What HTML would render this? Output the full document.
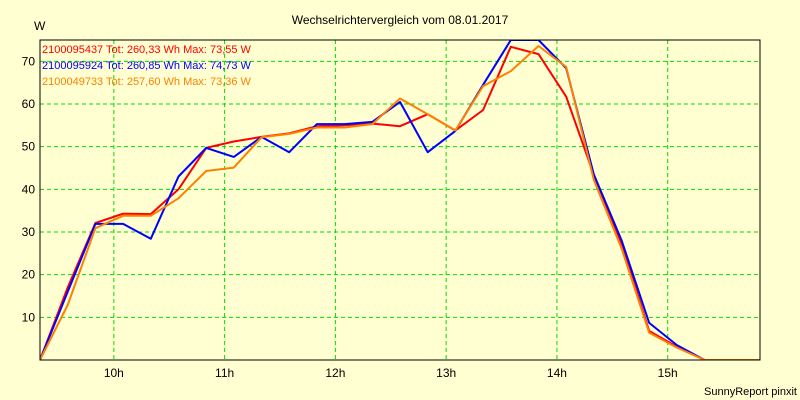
<!DOCTYPE html>
<html><head><meta charset="utf-8"><style>
html,body{margin:0;padding:0;background:#ffffd2;}
svg{display:block;font-family:"Liberation Sans",sans-serif;}
</style></head><body>
<svg id="chart" width="800" height="400" xmlns="http://www.w3.org/2000/svg">
<rect x="0" y="0" width="800" height="400" fill="#ffffd2"/>
<text x="400" y="24" font-size="12" text-anchor="middle" fill="#000">Wechselrichtervergleich vom 08.01.2017</text>
<text x="34" y="30" font-size="12" fill="#000">W</text>
<text x="797" y="395" font-size="11" text-anchor="end" fill="#000">SunnyReport pinxit</text>
<g id="grid"></g>
<g id="series"></g>
<rect x="40" y="40" width="720" height="320" fill="none" stroke="#000" stroke-width="1"/>
<g id="legend"></g>
</svg>
<script>
const times = [];
const startHour = 9.3333;
const stepHour = 0.25;
const redValues = [0,17,32.1,34.3,34.2,40,49.7,51.2,52.3,53.1,54.8,55,55.4,54.8,57.6,53.8,58.6,73.4,71.7,61.7,43.4,27.3,6.8,3.1,0,0,0];
const blueValues = [0,16,31.9,31.9,28.4,43,49.7,47.6,52.3,48.7,55.3,55.3,55.8,60.5,48.7,53.7,64.5,75,75,68.4,43.5,28.1,8.7,3.5,0,0,0];
const orangeValues = [0,12.9,30.9,33.8,33.8,37.9,44.3,45.1,52.2,53,54.5,54.5,55.3,61.3,57.6,53.8,64.2,67.7,73.6,68.7,42.2,26.2,6.4,2.9,0,0,0];
const yTicks = [10,20,30,40,50,60,70];
const xTicks = [10,11,12,13,14,15];
const xTickLabels = ["10h","11h","12h","13h","14h","15h"];
const legendLabels = ["2100095437 Tot: 260,33 Wh Max: 73,55 W","2100095924 Tot: 260,85 Wh Max: 74,73 W","2100049733 Tot: 257,60 Wh Max: 73,36 W"];
for (let i = 0; i < redValues.length; i++) times.push(startHour + i*stepHour);

const X0=40,X1=760,Y0=360,Y1=40,HMIN=9.3333,HMAX=15.8333,VMIN=0,VMAX=75;
const NS="http://www.w3.org/2000/svg";
function xs(h){return X0+(h-HMIN)/(HMAX-HMIN)*(X1-X0);}
function ys(v){return Y0-(v-VMIN)/(VMAX-VMIN)*(Y0-Y1);}
function mk(tag,attrs,parent){const e=document.createElementNS(NS,tag);for(const k in attrs)e.setAttribute(k,attrs[k]);parent.appendChild(e);return e;}
const svg=document.getElementById('chart');
const grid=document.getElementById('grid');
yTicks.forEach(v=>{
  const y=ys(v);
  const l=mk('line',{x1:X0,x2:X1,y1:y,y2:y,stroke:'#00dd00','stroke-dasharray':'4,3','stroke-width':1},grid);
  
  
  const t=mk('text',{x:X0-5,y:y+4,'font-size':12,'text-anchor':'end',fill:'#000'},grid);
  t.textContent=String(v);
  
  
});
xTicks.forEach((h,i)=>{
  const x=xs(h);
  const l=mk('line',{x1:x,x2:x,y1:Y1,y2:Y0,stroke:'#00dd00','stroke-dasharray':'4,3','stroke-width':1},grid);
  
  
  const t=mk('text',{x:x,y:377,'font-size':12,'text-anchor':'middle',fill:'#000'},grid);
  t.textContent=xTickLabels[i];
  
  
});
const ser=document.getElementById('series');
const clip=mk('clipPath',{id:'pc'},svg);
mk('rect',{x:X0,y:Y1,width:X1-X0,height:Y0-Y1},clip);
ser.setAttribute('clip-path','url(#pc)');
const seriesList=[[redValues,'#ff0000','series-2100095437'],[blueValues,'#0000ff','series-2100095924'],[orangeValues,'#ff8000','series-2100049733']];
seriesList.forEach(s=>{
  const pts=s[0].map((v,i)=>xs(times[i]).toFixed(1)+','+ys(v).toFixed(1)).join(' ');
  const p=mk('polyline',{points:pts,fill:'none',stroke:s[1],'stroke-width':2,'stroke-linejoin':'round'},ser);
  
  
});
const leg=document.getElementById('legend');
const legColors=['#ff0000','#0000ff','#ff8000'];
legendLabels.forEach((lab,i)=>{
  const t=mk('text',{x:42,y:53+i*16,'font-size':11,fill:legColors[i]},leg);
  t.textContent=lab;
  
  
});
</script>
</body></html>
